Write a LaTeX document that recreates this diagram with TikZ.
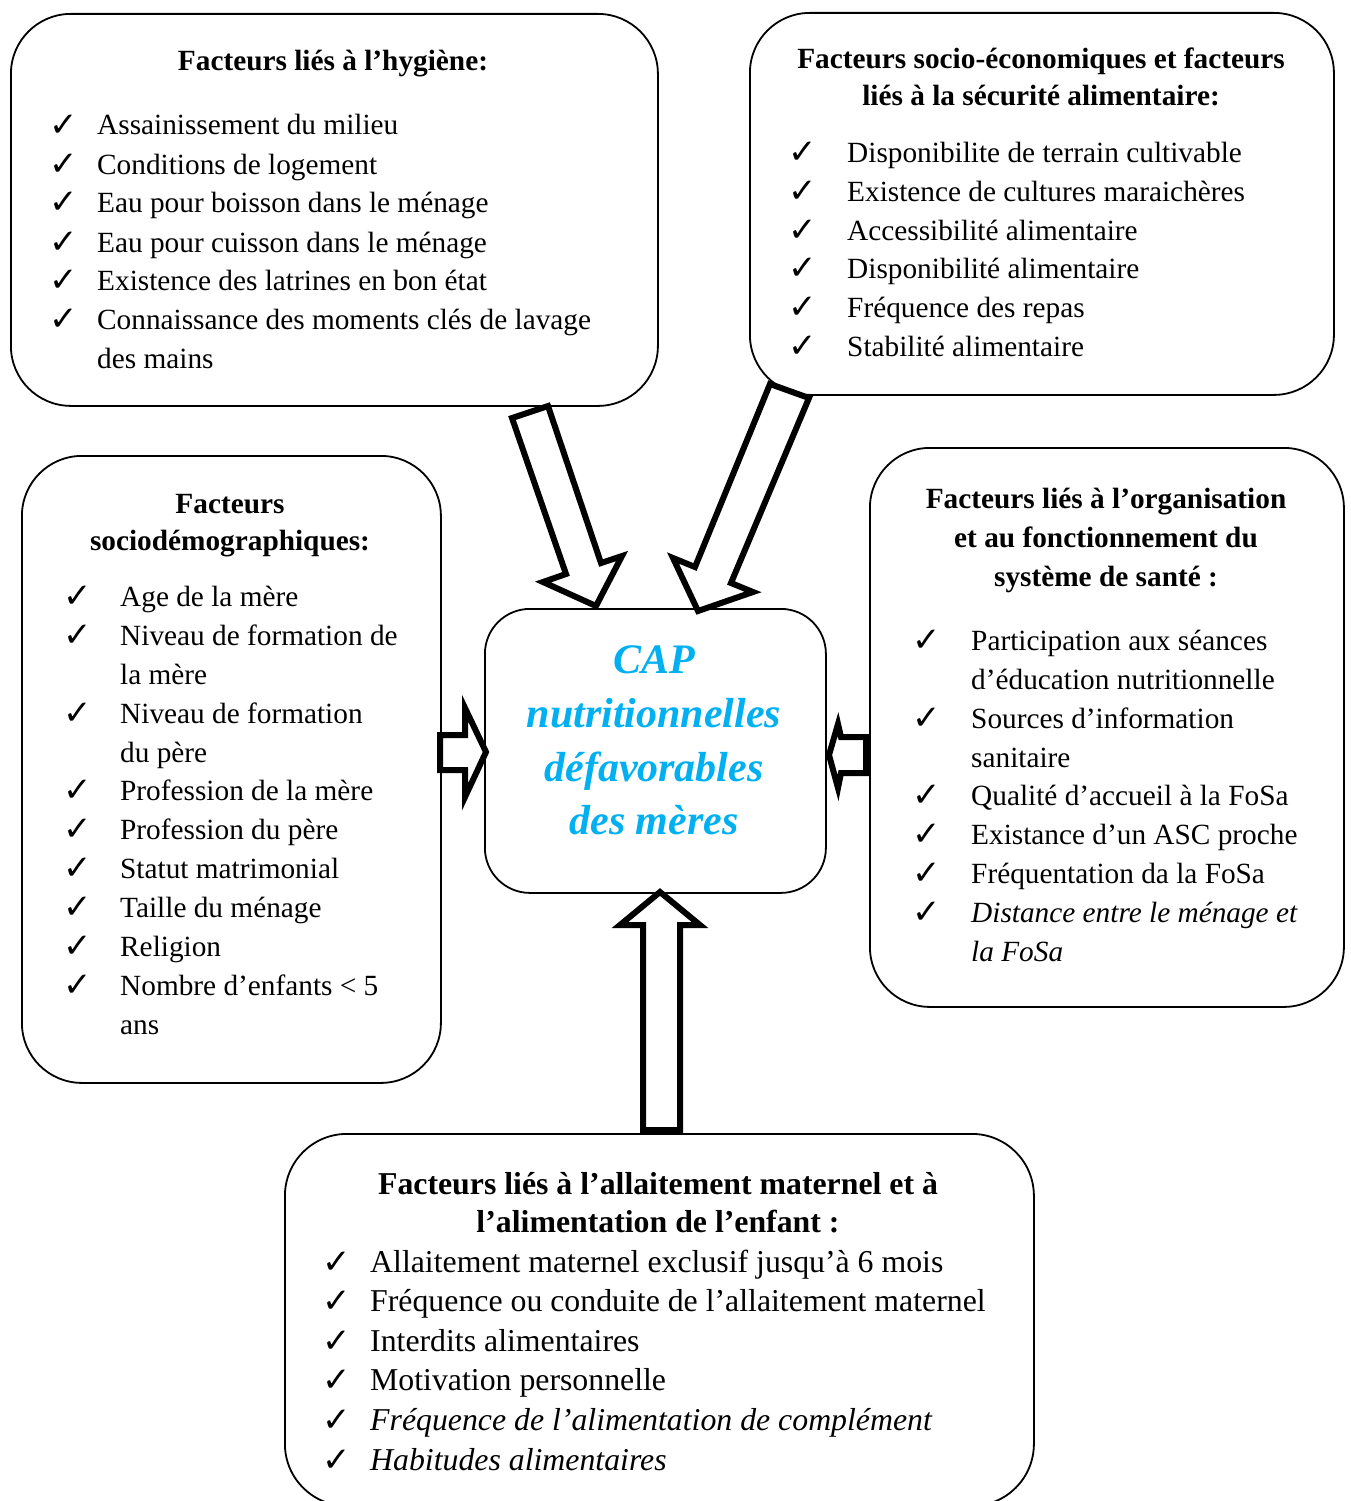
\documentclass[tikz,border=0pt]{standalone}
\usepackage{fontspec}
\setmainfont{Liberation Serif}
\newfontfamily\chkfont{DejaVu Sans}
\definecolor{capblue}{RGB}{0,176,240}
\begin{document}
\begin{tikzpicture}[x=1pt,y=-1pt,
  box/.style={draw,line width=1.8pt,rounded corners=60pt,fill=white,rectangle,inner sep=0pt,anchor=north west},
  txt/.style={anchor=base west,inner sep=0pt,font=\fontsize{29.3}{35}\selectfont},
  btxt/.style={anchor=base west,inner sep=0pt,font=\fontsize{31.8}{38}\selectfont},
  ttl/.style={anchor=base,inner sep=0pt,font=\fontsize{29.3}{35}\selectfont\bfseries},
  bttl/.style={anchor=base,inner sep=0pt,font=\fontsize{31.8}{38}\selectfont\bfseries},
  ck/.style={anchor=base west,inner sep=0pt,yshift=-1pt,font=\chkfont\fontsize{34}{36}\selectfont},
  ctr/.style={anchor=base,inner sep=0pt,text=capblue,font=\fontsize{42}{50}\selectfont\bfseries\itshape},
  blk/.style={draw,line width=6pt,fill=white,line join=miter,miter limit=20}]
\useasboundingbox (0,0) rectangle (1350,1501);

% boxes
\node[box,minimum width=647pt,minimum height=392pt] (hyg) at (10,13) {};
\node[box,minimum width=584pt,minimum height=382pt] (soc) at (749,12) {};
\node[box,minimum width=419pt,minimum height=627pt] (dem) at (21,455) {};
\node[box,minimum width=474pt,minimum height=559pt] (org) at (869,447) {};
\node[box,minimum width=749pt,minimum height=372pt,rounded corners=62pt] (all) at (284,1133) {};
\node[box,minimum width=341pt,minimum height=284pt,rounded corners=45pt] (cap) at (484,608) {};

% hygiene
\node[ttl] (h0) at (333,71) {Facteurs liés à l’hygiène:};
\foreach \y/\t [count=\i] in {135/Assainissement du milieu,174/Conditions de logement,212/Eau pour boisson dans le ménage,252/Eau pour cuisson dans le ménage,290/Existence des latrines en bon état,329/Connaissance des moments clés de lavage}{
  \node[ck] (hc\i) at (49,\y) {✓};
  \node[txt] (ht\i) at (97,\y) {\t};
}
\node[txt] (ht7) at (97,368) {des mains};

% socio-economique
\node[ttl] (s0) at (1041,69) {Facteurs socio-économiques et facteurs};
\node[ttl] (s00) at (1041,106) {liés à la sécurité alimentaire:};
\foreach \y/\t [count=\i] in {162/Disponibilite de terrain cultivable,201/Existence de cultures maraichères,240/Accessibilité alimentaire,278/Disponibilité alimentaire,317/Fréquence des repas,356/Stabilité alimentaire}{
  \node[ck] (sc\i) at (788,\y) {✓};
  \node[txt] (st\i) at (847,\y) {\t};
}

% sociodemographique
\node[ttl] (d0) at (230,513) {Facteurs};
\node[ttl] (d00) at (230,550) {sociodémographiques:};
\foreach \y/\t [count=\i] in {606/Age de la mère,645/Niveau de formation de,723/Niveau de formation,800/Profession de la mère,839/Profession du père,878/Statut matrimonial,917/Taille du ménage,956/Religion,995/Nombre d’enfants < 5}{
  \node[ck] (dc\i) at (63,\y) {✓};
  \node[txt] (dt\i) at (120,\y) {\t};
}
\node[txt] (dw1) at (120,684) {la mère};
\node[txt] (dw2) at (120,762) {du père};
\node[txt] (dw3) at (120,1034) {ans};

% organisation
\node[ttl] (o0) at (1106,508) {Facteurs liés à l’organisation};
\node[ttl] (o00) at (1106,547) {et au fonctionnement du};
\node[ttl] (o000) at (1106,586) {système de santé :};
\foreach \y/\t [count=\i] in {650/Participation aux séances,728/Sources d’information,805/Qualité d’accueil à la FoSa,844/Existance d’un ASC proche,883/Fréquentation da la FoSa,922/\itshape Distance entre le ménage et}{
  \node[ck] (oc\i) at (912,\y) {✓};
  \node[txt] (ot\i) at (971,\y) {\t};
}
\node[txt] (ow1) at (971,689) {d’éducation nutritionnelle};
\node[txt] (ow2) at (971,767) {sanitaire};
\node[txt,font=\fontsize{29.3}{35}\selectfont\itshape] (ow3) at (971,961) {la FoSa};

% allaitement
\node[bttl] (a0) at (658,1194) {Facteurs liés à l’allaitement maternel et à};
\node[bttl] (a00) at (658,1232) {l’alimentation de l’enfant :};
\foreach \y/\t [count=\i] in {1272/Allaitement maternel exclusif jusqu’à 6 mois,1311/Fréquence ou conduite de l’allaitement maternel,1351/Interdits alimentaires,1390/Motivation personnelle,1430/\itshape Fréquence de l’alimentation de complément,1470/\itshape Habitudes alimentaires}{
  \node[ck] (ac\i) at (322,\y) {✓};
  \node[btxt] (at\i) at (370,\y) {\t};
}

% centre
\node[ctr] (c1) at (654,673) {CAP};
\node[ctr] (c2) at (654,727) {nutritionnelles};
\node[ctr] (c3) at (654,781) {défavorables};
\node[ctr] (c4) at (654,834) {des mères};

% block arrows
\draw[blk] (512,418) -- (548,406) -- (601,563) -- (622,556) -- (596,606) -- (543,582) -- (566,574) -- cycle;
\draw[blk] (770,384) -- (809,398) -- (731,583) -- (753,592) -- (698,611) -- (673,558) -- (695,567) -- cycle;
\draw[blk] (440,735) -- (465,735) -- (465,708) -- (486,752) -- (465,797) -- (465,770) -- (440,770) -- cycle;
\draw[blk] (866,737) -- (841,737) -- (838,724) -- (829,755) -- (838,788) -- (841,773) -- (866,773) -- cycle;
\draw[blk] (643,1130) -- (643,925) -- (620,925) -- (660,892) -- (700,925) -- (680,925) -- (680,1130) -- cycle;
\end{tikzpicture}
\end{document}
